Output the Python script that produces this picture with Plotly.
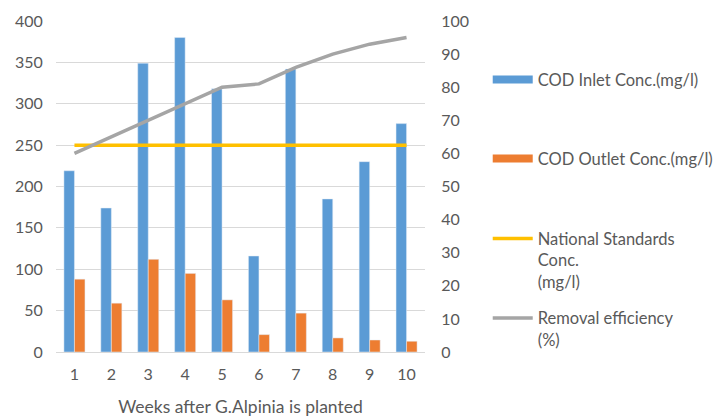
import plotly.graph_objects as go

weeks = ["1", "2", "3", "4", "5", "6", "7", "8", "9", "10"]
cod_inlet = [219, 174, 349, 380, 318, 116, 342, 185, 230, 276]
cod_outlet = [88, 59, 112, 95, 63, 21, 47, 17, 14.5, 13]
national_std = [250, 250, 250, 250, 250, 250, 250, 250, 250, 250]
removal_eff = [60, 65, 70, 75, 80, 81, 86, 90, 93, 95]

left_ticks = [0, 50, 100, 150, 200, 250, 300, 350, 400]
right_ticks = [0, 10, 20, 30, 40, 50, 60, 70, 80, 90, 100]

BLUE = "#5B9BD5"
ORANGE = "#ED7D31"
YELLOW = "#FFC000"
GRAY = "#A5A5A5"
TXT = "#595959"
FONT = "Lato"

fig = go.Figure()
fig.add_trace(go.Bar(x=weeks, y=cod_inlet, marker_color=BLUE, showlegend=False))
fig.add_trace(go.Bar(x=weeks, y=cod_outlet, marker_color=ORANGE, showlegend=False))
fig.add_trace(go.Scatter(x=weeks, y=national_std, mode="lines",
                         line=dict(color=YELLOW, width=3.5), showlegend=False))
fig.add_trace(go.Scatter(x=weeks, y=removal_eff, mode="lines", yaxis="y2",
                         line=dict(color=GRAY, width=3.5), showlegend=False))

# legend-only entries
legend_items = [
    ("COD Inlet Conc.(mg/l)", BLUE, "legend"),
    ("COD Outlet Conc.(mg/l)", ORANGE, "legend2"),
    ("National Standards<br>Conc.<br>(mg/l)", YELLOW, "legend3"),
    ("Removal efficiency<br>(%)", GRAY, "legend4"),
]
for name, col, lg in legend_items:
    w = 8 if col in (BLUE, ORANGE) else 3.5
    fig.add_trace(go.Scatter(x=[None], y=[None], mode="lines", name=name,
                             line=dict(color=col, width=w), legend=lg, showlegend=True))

def leg(y):
    return dict(x=1.17, y=y, xanchor="left", yanchor="top", bgcolor="rgba(0,0,0,0)",
                font=dict(family=FONT, size=16.5, color=TXT), itemwidth=40,
                valign="top", tracegroupgap=0)

fig.update_layout(
    width=713, height=417,
    margin=dict(l=56, r=288, t=21, b=65, autoexpand=False),
    paper_bgcolor="white", plot_bgcolor="white",
    font=dict(family=FONT, size=16, color=TXT),
    barmode="group", bargap=0.43, bargroupgap=0,
    xaxis=dict(type="category", showgrid=False, linecolor="#D9D9D9", linewidth=1,
               automargin=False,
               ticks="outside", tickcolor="rgba(0,0,0,0)", ticklen=8,
               title=dict(text="Weeks after G.Alpinia is planted", standoff=18,
                          font=dict(family=FONT, size=17.5, color=TXT))),
    yaxis=dict(range=[0, 400], tickvals=left_ticks, gridcolor="#D9D9D9", zeroline=False,
               automargin=False,
               ticks="outside", tickcolor="rgba(0,0,0,0)", ticklen=9),
    yaxis2=dict(range=[0, 100], tickvals=right_ticks, overlaying="y", side="right",
                showgrid=False, zeroline=False, automargin=False,
                ticks="outside", tickcolor="rgba(0,0,0,0)", ticklen=12),
    legend=leg(0.875),
    legend2=leg(0.637),
    legend3=leg(0.395),
    legend4=leg(0.155),
)

fig.write_html("out.html", config={"displayModeBar": False},
               post_script="document.body.style.margin='0';")
